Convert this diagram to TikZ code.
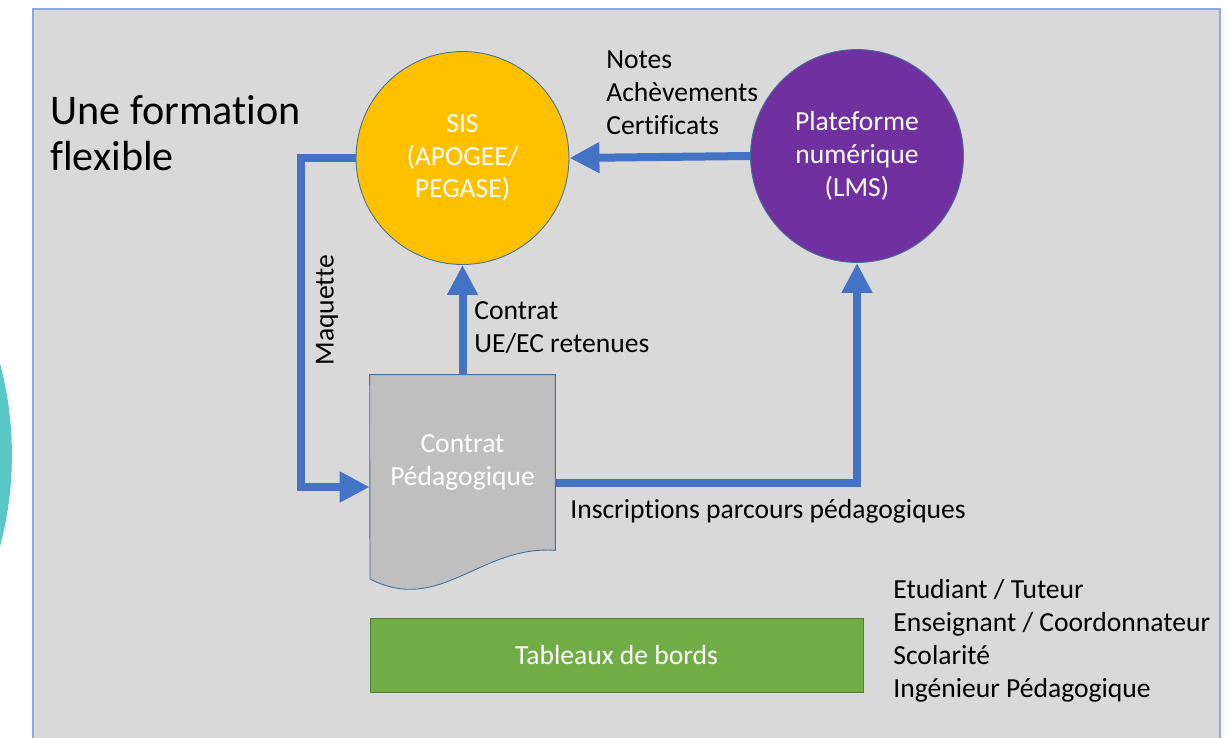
\documentclass[tikz,border=0pt]{standalone}
\usepackage{fontspec}
\setmainfont{Carlito}[Ligatures=NoCommon]
\usetikzlibrary{arrows.meta,calc}

\definecolor{panelfill}{RGB}{217,217,217}
\definecolor{panelline}{RGB}{142,169,219}
\definecolor{flowblue}{RGB}{68,114,196}
\definecolor{sisgold}{RGB}{255,192,0}
\definecolor{lmspurple}{RGB}{112,48,160}
\definecolor{boardgreen}{RGB}{112,173,71}
\definecolor{boardline}{RGB}{80,126,50}
\definecolor{docgray}{RGB}{191,191,191}
\definecolor{edgeblue}{RGB}{65,113,156}
\definecolor{tealarc}{RGB}{90,200,200}

\tikzset{
  body/.style={font=\fontsize{15.7}{18.7}\selectfont, align=left, inner sep=0pt},
  titre/.style={font=\fontsize{24}{26.1}\selectfont, align=left, inner sep=0pt},
  disc/.style={circle, minimum size=4.26cm, draw=edgeblue, line width=0.5pt, text=white,
    font=\fontsize{15.7}{18.7}\selectfont, align=center, inner sep=0pt},
  docbox/.style={minimum width=3.7cm, minimum height=3.5cm, inner sep=0pt, text=white,
    font=\fontsize{15.7}{18.7}\selectfont, align=center},
  board/.style={minimum width=9.86cm, minimum height=1.48cm, fill=boardgreen, draw=boardline,
    line width=0.5pt, text=white, font=\fontsize{15.7}{18.7}\selectfont},
  flow/.style={draw=flowblue, line width=0.16cm, -{Triangle[length=0.6cm,width=0.58cm]}},
}

\begin{document}
\begin{tikzpicture}[x=0.02cm,y=-0.02cm]
  \useasboundingbox (0,0) rectangle (1227,737);
  \clip (0,0) rectangle (1227,737);

  % bord gauche
  \fill[tealarc] (-343,455) circle (7.1cm);

  % fond
  \filldraw[draw=panelline, fill=panelfill, line width=1.2pt]
    (33,750) -- (33,9) -- (1220,9) -- (1220,750);

  \node[titre, anchor=base west] (formation) at (50,170) {Une formation\\flexible};

  % systemes
  \node[disc, fill=sisgold] (sis) at (462.5,158) {SIS\\(APOGEE/\\PEGASE)};
  \node[disc, fill=lmspurple] (lms) at (857,156) {Plateforme\\numérique\\(LMS)};

  % contrat
  \node[docbox] (contrat) at (462.5,462.5) {};
  \draw[draw=edgeblue, line width=0.5pt, fill=docgray]
    (contrat.north west) -- (contrat.north east) -- (contrat.south east)
    .. controls (480,545) and (440,615) .. (370,579) -- cycle;
  \node[docbox] at (contrat.center) {Contrat\\Pédagogique};

  \node[board] (tableaux) at (616.5,655) {Tableaux de bords};

  % flux
  \coordinate (maqhaut) at (301,158);
  \coordinate (maqbas) at (301,487);
  \coordinate (inscr) at (857,483);
  \draw[flow] (lms.west) -- (sis.east);
  \draw[flow] (contrat.north) -- (sis.south);
  \draw[flow] (sis.west) -- (maqhaut) -- (maqbas) -- (contrat.west |- maqbas);
  \draw[flow] (contrat.east |- inscr) -- (inscr) -- (lms.south);

  % libelles
  \node[body, anchor=base west] (notes) at (606,134) {Notes\\Achèvements\\Certificats};
  \node[body, anchor=base west] (retenues) at (474,352) {Contrat\\UE/EC retenues};
  \node[body, rotate=90] (maquette) at (327,310) {Maquette};
  \node[body, anchor=base west] (inscriptions) at (570,518) {Inscriptions parcours pédagogiques};
  \node[body, anchor=base west] (acteurs) at (893,697)
    {Etudiant / Tuteur\\Enseignant / Coordonnateur\\Scolarité\\Ingénieur Pédagogique};
\end{tikzpicture}
\end{document}
